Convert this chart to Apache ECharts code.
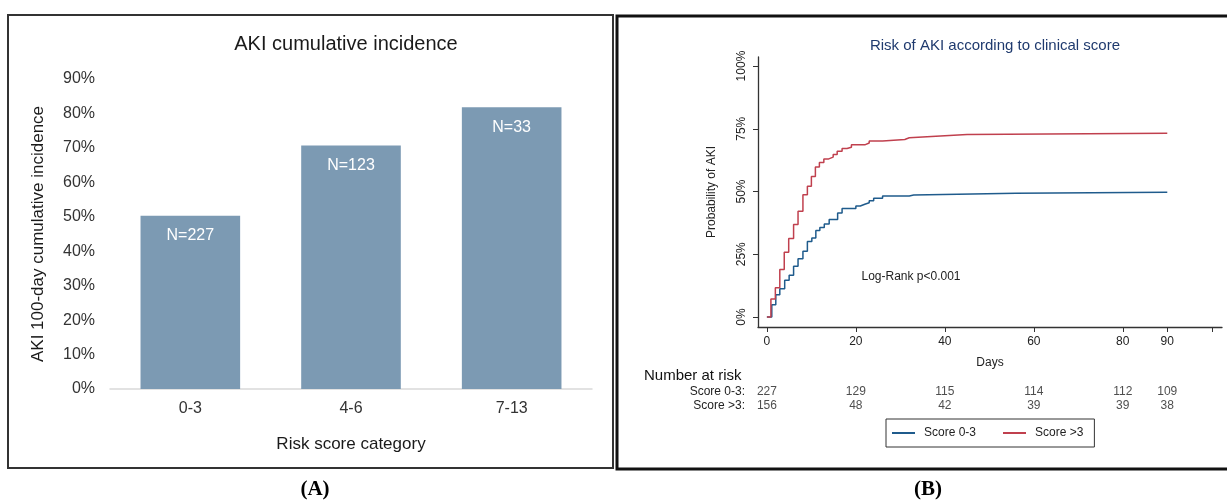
<!DOCTYPE html>
<html>
<head>
<meta charset="utf-8">
<script src="https://cdn.jsdelivr.net/npm/echarts@6/dist/echarts.min.js"></script>
<style>
  html, body { margin: 0; padding: 0; background: #fff; }
  #chart { width: 1227px; height: 504px; }
</style>
</head>
<body>
<div id="chart"></div>
<script>
// panel A: cumulative incidence by risk score category
var categories = ['0-3', '4-6', '7-13'];
var incidence = [0.503, 0.707, 0.818];
var groupN = ['N=227', 'N=123', 'N=33'];
var pctTicks = [0, 0.25, 0.5, 0.75, 1];

// panel B: Kaplan-Meier style cumulative incidence (day, probability)
var lowDays = [0, 1.1, 2, 2.9, 4, 5, 6, 7, 8.1, 9.1, 10.1, 11, 11.9, 12.9, 14, 15.9, 16.9, 20, 21, 22, 23, 24, 26, 32, 33, 56, 90];
var lowProb = [0, 0.049, 0.089, 0.112, 0.146, 0.166, 0.202, 0.232, 0.262, 0.301, 0.315, 0.345, 0.357, 0.370, 0.388, 0.414, 0.432, 0.442, 0.449, 0.455, 0.463, 0.473, 0.482, 0.486, 0.493, 0.497, 0.497];
var highDays = [0, 0.9, 1.9, 2.9, 3.9, 4.9, 6, 7, 8.1, 9.1, 10, 10.9, 11.8, 12.8, 13.9, 14.9, 15.8, 16.9, 18, 19, 22, 23, 26, 31, 32, 39, 45, 90];
var highProb = [0, 0.072, 0.116, 0.189, 0.258, 0.313, 0.368, 0.421, 0.487, 0.521, 0.560, 0.598, 0.616, 0.630, 0.637, 0.647, 0.660, 0.671, 0.676, 0.686, 0.693, 0.701, 0.707, 0.714, 0.721, 0.727, 0.732, 0.732];
var dayTicks = [0, 20, 40, 60, 80, 90, 100];
var dayLabels = [0, 20, 40, 60, 80, 90];

// number at risk table
var riskDays = [0, 20, 40, 60, 80, 90];
var riskLow = [227, 129, 115, 114, 112, 109];
var riskHigh = [156, 48, 42, 39, 39, 38];
var riskRows = ['Score 0-3:', 'Score >3:'];

var blue = '#1f5b8c';
var red = '#c0404e';
var sans = 'Liberation Sans, Arial, sans-serif';

function pairs(xs, ys) {
    var out = [];
    for (var i = 0; i < xs.length; i++) out.push([xs[i], ys[i]]);
    return out;
}
function riskData(vals, row) {
    var out = [];
    for (var i = 0; i < vals.length; i++) out.push([riskDays[i], row, vals[i]]);
    return out;
}

var myChart = echarts.init(document.getElementById('chart'));
var option = {
    animation: false,
    textStyle: { fontFamily: sans },
    title: [
        {
            text: 'AKI cumulative incidence',
            left: 341, top: 29, textAlign: 'center',
            textStyle: { fontSize: 20, fontWeight: 'normal', color: '#1a1a1a' }
        },
        {
            text: 'Risk of AKI according to clinical score',
            left: 990, top: 33, textAlign: 'center',
            textStyle: { fontSize: 15, fontWeight: 'normal', color: '#1f3a6e' }
        }
    ],
    legend: {
        data: ['Score 0-3', 'Score >3'],
        left: 886, top: 419,
        padding: [8, 11, 8, 6],
        itemWidth: 23, itemHeight: 2, itemGap: 27,
        icon: 'rect',
        borderColor: '#333', borderWidth: 1,
        textStyle: { fontSize: 12, color: '#222', padding: [0, 0, 0, 4] }
    },
    grid: [
        { left: 110, top: 79, width: 482, height: 310 },
        { left: 758, top: 57, width: 464, height: 270 },
        { left: 758, top: 385, width: 464, height: 28 }
    ],
    xAxis: [
        {
            gridIndex: 0, type: 'category', data: categories,
            name: 'Risk score category', nameLocation: 'middle', nameGap: 47,
            nameTextStyle: { fontSize: 17, color: '#1a1a1a' },
            axisLine: { lineStyle: { color: '#d9d9d9', width: 1.5 } },
            axisTick: { show: false },
            axisLabel: { fontSize: 16, color: '#333', margin: 12 }
        },
        {
            gridIndex: 1, type: 'value', min: -2, max: 102.3,
            name: 'Days', nameLocation: 'middle', nameGap: 30,
            nameTextStyle: { fontSize: 12, color: '#222' },
            splitLine: { show: false },
            axisLine: { onZero: false, lineStyle: { color: '#333', width: 1.3 } },
            axisTick: { length: 5, customValues: dayTicks, lineStyle: { color: '#333' } },
            axisLabel: { fontSize: 12, color: '#222', margin: 9, customValues: dayLabels }
        },
        {
            gridIndex: 2, type: 'value', min: -2, max: 102.3, show: false
        }
    ],
    yAxis: [
        {
            gridIndex: 0, type: 'value', min: 0, max: 0.9, interval: 0.1,
            name: 'AKI 100-day cumulative incidence', nameLocation: 'middle', nameGap: 63,
            nameTextStyle: { fontSize: 17, color: '#1a1a1a' },
            axisLine: { show: false }, axisTick: { show: false },
            splitLine: { show: false },
            axisLabel: {
                fontSize: 16, color: '#333', margin: 15,
                formatter: function (v) { return Math.round(v * 100) + '%'; }
            }
        },
        {
            gridIndex: 1, type: 'value', min: -0.04, max: 1.036,
            name: 'Probability of AKI', nameLocation: 'middle', nameGap: 40,
            nameTextStyle: { fontSize: 12, color: '#222' },
            splitLine: { show: false },
            axisLine: { show: true, onZero: false, lineStyle: { color: '#333', width: 1.3 } },
            axisTick: { show: true, length: 5, customValues: pctTicks, lineStyle: { color: '#333' } },
            axisLabel: {
                fontSize: 12, color: '#222', margin: 10, rotate: 90,
                customValues: pctTicks,
                formatter: function (v) { return Math.round(v * 100) + '%'; }
            }
        },
        {
            gridIndex: 2, type: 'category', data: riskRows, inverse: true,
            axisLine: { show: false }, axisTick: { show: false },
            axisLabel: { fontSize: 12, color: '#222', margin: 13, interval: 0 }
        }
    ],
    graphic: [
        { type: 'rect', shape: { x: 8, y: 15, width: 605, height: 453 },
          style: { fill: 'none', stroke: '#333', lineWidth: 2 } },
        { type: 'rect', shape: { x: 617, y: 16, width: 620, height: 453 },
          style: { fill: 'none', stroke: '#111', lineWidth: 3 } },
        { type: 'text', x: 911, y: 277,
          style: { text: 'Log-Rank p<0.001', fontSize: 12, fill: '#222', fontFamily: sans,
                   align: 'center', verticalAlign: 'middle' } },
        { type: 'text', x: 644, y: 376,
          style: { text: 'Number at risk', fontSize: 15, fill: '#111', fontFamily: sans,
                   align: 'left', verticalAlign: 'middle' } },
        { type: 'text', x: 315, y: 490,
          style: { text: '(A)', fontSize: 21, fontWeight: 'bold', fill: '#000',
                   fontFamily: 'Liberation Serif, serif', align: 'center', verticalAlign: 'middle' } },
        { type: 'text', x: 928, y: 490,
          style: { text: '(B)', fontSize: 21, fontWeight: 'bold', fill: '#000',
                   fontFamily: 'Liberation Serif, serif', align: 'center', verticalAlign: 'middle' } }
    ],
    series: [
        {
            type: 'bar', xAxisIndex: 0, yAxisIndex: 0,
            barCategoryGap: '38%',
            itemStyle: { color: '#7c9ab3' },
            label: {
                show: true, position: 'insideTop', distance: 12,
                fontSize: 16, color: '#fff',
                formatter: function (p) { return groupN[p.dataIndex]; }
            },
            data: incidence
        },
        {
            name: 'Score 0-3', type: 'line', xAxisIndex: 1, yAxisIndex: 1,
            step: 'end', symbol: 'none', color: blue,
            lineStyle: { width: 1.5, color: blue },
            data: pairs(lowDays, lowProb)
        },
        {
            name: 'Score >3', type: 'line', xAxisIndex: 1, yAxisIndex: 1,
            step: 'end', symbol: 'none', color: red,
            lineStyle: { width: 1.5, color: red },
            data: pairs(highDays, highProb)
        },
        {
            type: 'scatter', xAxisIndex: 2, yAxisIndex: 2, symbolSize: 0,
            label: { show: true, position: 'inside', fontSize: 12, color: '#222',
                     formatter: function (p) { return p.value[2]; } },
            data: riskData(riskLow, 0)
        },
        {
            type: 'scatter', xAxisIndex: 2, yAxisIndex: 2, symbolSize: 0,
            label: { show: true, position: 'inside', fontSize: 12, color: '#222',
                     formatter: function (p) { return p.value[2]; } },
            data: riskData(riskHigh, 1)
        }
    ]
};
myChart.setOption(option);
</script>
</body>
</html>
